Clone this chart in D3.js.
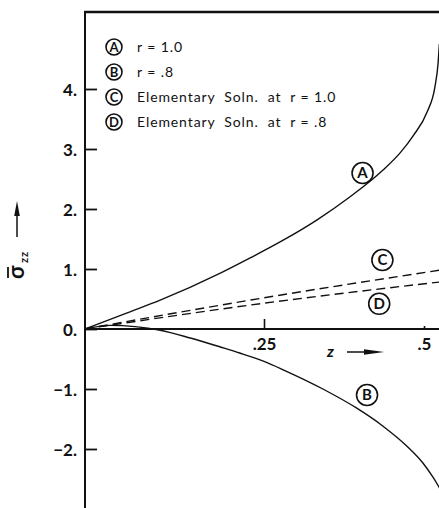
<!DOCTYPE html>
<html>
<head>
<meta charset="utf-8">
<script src="https://cdn.jsdelivr.net/npm/d3@7"></script>
<style>
  html, body { margin: 0; padding: 0; background: #fff; }
  svg { display: block; }
  text { fill: #111; }
</style>
</head>
<body>
<svg id="chart" width="439" height="508"></svg>
<script>
// Stress sigma_zz along z for two radii, with the elementary solutions
const zTicks = [0.25, 0.5];
const zTickLabels = [".25", ".5"];
const sigmaTicks = [4, 3, 2, 1, 0, -1, -2];

// [z, sigma_zz] pairs
const curveA = [[0,0],[0.059,0.27],[0.105,0.48],[0.189,0.93],[0.230,1.18],[0.280,1.48],[0.333,1.82],[0.384,2.20],[0.436,2.65],[0.463,2.94],[0.483,3.22],[0.505,3.62],[0.517,4.03],[0.522,4.43],[0.524,4.75]];
const curveB = [[0,0],[0.035,0.06],[0.07,0.04],[0.105,-0.02],[0.147,-0.15],[0.189,-0.30],[0.216,-0.40],[0.250,-0.54],[0.280,-0.68],[0.342,-1.00],[0.395,-1.32],[0.436,-1.62],[0.473,-1.95],[0.498,-2.23],[0.514,-2.47],[0.526,-2.68]];
const curveC = [[0,0],[0.25,0.52],[0.53,0.99]];
const curveD = [[0,0],[0.25,0.43],[0.53,0.79]];

const legendKeys = ["A", "B", "C", "D"];
const legendTexts = ["r = 1.0", "r = .8", "Elementary  Soln.  at  r = 1.0", "Elementary  Soln.  at  r = .8"];

// curve tag anchors: [key, z, sigma]
const curveTags = [["A", 0.404, 2.60], ["B", 0.411, -1.10], ["C", 0.435, 1.15], ["D", 0.430, 0.42]];

const svg = d3.select("#chart");
const W = 439, H = 508;

const x = d3.scaleLinear().domain([0, 0.25, 0.5]).range([85, 264, 424]);
const y = d3.scaleLinear().domain([-3, 5.3]).range([509, 11]);

const font = "Lato, 'DejaVu Sans', sans-serif";

// frame: left axis and top border
svg.append("line").attr("x1", x(0)).attr("x2", x(0)).attr("y1", 11).attr("y2", H)
  .attr("stroke", "#111").attr("stroke-width", 2);
svg.append("line").attr("x1", x(0) - 1).attr("x2", W).attr("y1", 12).attr("y2", 12)
  .attr("stroke", "#111").attr("stroke-width", 2.4);

// y axis ticks pointing into the plot
const yAxis = d3.axisLeft(y).tickValues(sigmaTicks).tickSizeInner(-12).tickSizeOuter(0).tickPadding(8)
  .tickFormat(d => (d < 0 ? "\u2212" : "") + Math.abs(d) + ".");
const gy = svg.append("g").attr("transform", `translate(${x(0)},0)`).call(yAxis);
gy.select(".domain").remove();
gy.selectAll(".tick line").attr("stroke", "#111").attr("stroke-width", 1.8);
gy.selectAll(".tick text").attr("font-family", font).attr("font-size", 17).attr("font-weight", 700)
  .attr("fill", "#111").attr("dy", "0.36em");

// z axis along sigma = 0
const xAxis = d3.axisBottom(x).tickValues(zTicks).tickSizeInner(-10).tickSizeOuter(0).tickPadding(9)
  .tickFormat((d, i) => zTickLabels[i]);
const gx = svg.append("g").attr("transform", `translate(0,${y(0)})`).call(xAxis);
gx.select(".domain").remove();
gx.selectAll(".tick line").attr("stroke", "#111").attr("stroke-width", 1.6)
  .attr("y2", (d, i) => i === 1 ? -3 : -10);
gx.selectAll(".tick text").attr("font-family", font).attr("font-size", 17).attr("font-weight", 700)
  .attr("fill", "#111");
svg.append("line").attr("x1", x(0)).attr("x2", W).attr("y1", y(0)).attr("y2", y(0))
  .attr("stroke", "#111").attr("stroke-width", 2);

// curves
const line = d3.line().x(d => x(d[0])).y(d => y(d[1])).curve(d3.curveMonotoneX);
const plot = svg.append("g");
plot.append("path").datum(curveA).attr("d", line).attr("fill", "none").attr("stroke", "#111").attr("stroke-width", 1.4);
plot.append("path").datum(curveB).attr("d", line).attr("fill", "none").attr("stroke", "#111").attr("stroke-width", 1.4);
plot.append("path").datum(curveC).attr("d", line).attr("fill", "none").attr("stroke", "#111").attr("stroke-width", 1.4)
  .attr("stroke-dasharray", "9,5");
plot.append("path").datum(curveD).attr("d", line).attr("fill", "none").attr("stroke", "#111").attr("stroke-width", 1.4)
  .attr("stroke-dasharray", "9,5");

// circled tag helper
function tag(g, cx, cy, r, key, fs) {
  g.append("circle").attr("cx", cx).attr("cy", cy).attr("r", r)
    .attr("fill", "#fff").attr("stroke", "#111").attr("stroke-width", 1.6);
  g.append("text").attr("x", cx).attr("y", cy).attr("dy", "0.36em").attr("text-anchor", "middle")
    .attr("font-family", font).attr("font-size", fs).attr("font-weight", 700).text(key);
}

curveTags.forEach(t => tag(svg, x(t[1]), y(t[2]), 10.5, t[0], 15));

// legend
const legend = svg.append("g");
legendKeys.forEach((k, i) => {
  const cy = 47 + i * 25;
  tag(legend, 114, cy, 8, k, 13);
  legend.append("text").attr("x", 137).attr("y", cy).attr("dy", "0.36em")
    .attr("font-family", font).attr("font-size", 14).attr("letter-spacing", 0.9)
    .style("white-space", "pre").text(legendTexts[i]);
});

// y axis title: sigma-bar with zz subscript, rotated, plus arrow
const yt = svg.append("g").attr("transform", "translate(24,280) rotate(-90)");
yt.append("text").attr("x", 1).attr("y", 0).attr("font-family", font).attr("font-size", 22)
  .attr("font-weight", 700).text("\u03c3");
yt.append("line").attr("x1", 2).attr("x2", 13).attr("y1", -16).attr("y2", -16)
  .attr("stroke", "#111").attr("stroke-width", 1.8);
yt.append("text").attr("x", 17).attr("y", 4).attr("font-family", font).attr("font-size", 11)
  .attr("font-weight", 700).attr("letter-spacing", 1).text("zz");

svg.append("line").attr("x1", 17).attr("x2", 17).attr("y1", 237).attr("y2", 212)
  .attr("stroke", "#111").attr("stroke-width", 1.5);
svg.append("path").attr("d", "M17,201 L14.2,216 L19.8,216 Z").attr("fill", "#111");

// z axis title with arrow
svg.append("text").attr("x", 327).attr("y", 357).attr("font-family", font).attr("font-size", 16)
  .attr("font-weight", 700).attr("font-style", "italic").text("z");
svg.append("line").attr("x1", 347).attr("x2", 370).attr("y1", 352).attr("y2", 352)
  .attr("stroke", "#111").attr("stroke-width", 1.5);
svg.append("path").attr("d", "M384,352 L364,349.3 L364,354.7 Z").attr("fill", "#111");
</script>
</body>
</html>
